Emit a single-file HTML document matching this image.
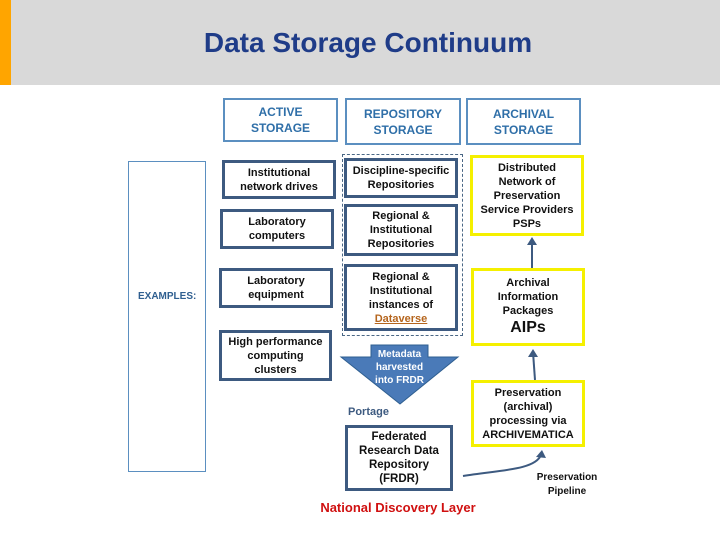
<!DOCTYPE html>
<html><head><style>
body{margin:0;width:720px;height:540px;position:relative;background:#fff;font-family:"Liberation Sans",sans-serif;overflow:hidden}
.a{position:absolute;box-sizing:border-box;display:flex;align-items:center;justify-content:center;text-align:center;font-weight:bold;font-size:11px;line-height:14px;color:#111}
.h{border:2px solid #5b8fc0;color:#2f6fa8;font-size:12px;line-height:16px}
.t{border:3px solid #3d5a80}
.y{border:3px solid #f5f000}
</style></head><body>
<div style="position:absolute;left:0;top:0;width:720px;height:85px;background:#d9d9d9"></div>
<div style="position:absolute;left:0;top:0;width:11px;height:85px;background:#ffa500"></div>
<div style="position:absolute;left:0;top:27px;width:736px;text-align:center;font-size:28px;font-weight:bold;color:#1f3c88">Data Storage Continuum</div>

<div class="a h" style="left:223px;top:98px;width:115px;height:44px"><div>ACTIVE<br>STORAGE</div></div>
<div class="a h" style="left:345px;top:98px;width:116px;height:47px"><div>REPOSITORY<br>STORAGE</div></div>
<div class="a h" style="left:466px;top:98px;width:115px;height:47px"><div>ARCHIVAL<br>STORAGE</div></div>

<div style="position:absolute;left:128px;top:161px;width:78px;height:311px;border:1px solid #5b8fc0;box-sizing:border-box"></div>
<div style="position:absolute;left:138px;top:291px;font-size:10px;font-weight:bold;color:#2f5f90">EXAMPLES:</div>

<div class="a t" style="left:222px;top:160px;width:114px;height:39px"><div>Institutional<br>network drives</div></div>
<div class="a t" style="left:220px;top:209px;width:114px;height:40px"><div>Laboratory<br>computers</div></div>
<div class="a t" style="left:219px;top:268px;width:114px;height:40px"><div>Laboratory<br>equipment</div></div>
<div class="a t" style="left:219px;top:330px;width:113px;height:51px"><div>High performance<br>computing<br>clusters</div></div>

<div style="position:absolute;left:342px;top:154px;width:121px;height:182px;border:1px dashed #4a6785;box-sizing:border-box"></div>
<div class="a t" style="left:344px;top:158px;width:114px;height:40px"><div>Discipline-specific<br>Repositories</div></div>
<div class="a t" style="left:344px;top:204px;width:114px;height:52px"><div>Regional &amp;<br>Institutional<br>Repositories</div></div>
<div class="a t" style="left:344px;top:264px;width:114px;height:67px"><div>Regional &amp;<br>Institutional<br>instances of<br><span style="color:#b5651d;text-decoration:underline">Dataverse</span></div></div>

<svg style="position:absolute;left:0;top:0" width="720" height="540">
<polygon points="371,345 428,345 428,357 458,357 400,404 341,357 371,357" fill="#4a7ab8" stroke="#2f5f90"/>
<line x1="532" y1="268" x2="532" y2="240" stroke="#3d5a80" stroke-width="2"/>
<polygon points="532,237 527,245 537,245" fill="#3d5a80"/>
<line x1="535" y1="380" x2="533" y2="352" stroke="#3d5a80" stroke-width="2"/>
<polygon points="533,349 528,357 538,357" fill="#3d5a80"/>
<path d="M463,476 C500,470 535,470 541,455" fill="none" stroke="#3d5a80" stroke-width="2"/>
<polygon points="542,450 536,457 546,458" fill="#3d5a80"/>
</svg>
<div class="a" style="left:371px;top:346px;width:57px;height:42px;color:#fff;font-size:10px;line-height:13px"><div>Metadata<br>harvested<br>into FRDR</div></div>
<div style="position:absolute;left:348px;top:406px;font-size:11px;font-weight:bold;color:#3d5a80">Portage</div>
<div class="a t" style="left:345px;top:425px;width:108px;height:66px;font-size:11.5px"><div>Federated<br>Research Data<br>Repository<br>(FRDR)</div></div>

<div class="a y" style="left:470px;top:155px;width:114px;height:81px"><div>Distributed<br>Network of<br>Preservation<br>Service Providers<br>PSPs</div></div>
<div class="a y" style="left:471px;top:268px;width:114px;height:78px"><div>Archival<br>Information<br>Packages<br><span style="font-size:16px;line-height:20px">AIPs</span></div></div>
<div class="a y" style="left:471px;top:380px;width:114px;height:67px"><div>Preservation<br>(archival)<br>processing via<br>ARCHIVEMATICA</div></div>
<div class="a" style="left:527px;top:471px;width:80px;height:28px;font-size:10px;line-height:14px"><div>Preservation<br>Pipeline</div></div>
<div style="position:absolute;left:298px;top:500px;width:200px;text-align:center;font-size:13px;font-weight:bold;color:#d01010">National Discovery Layer</div>
</body></html>
